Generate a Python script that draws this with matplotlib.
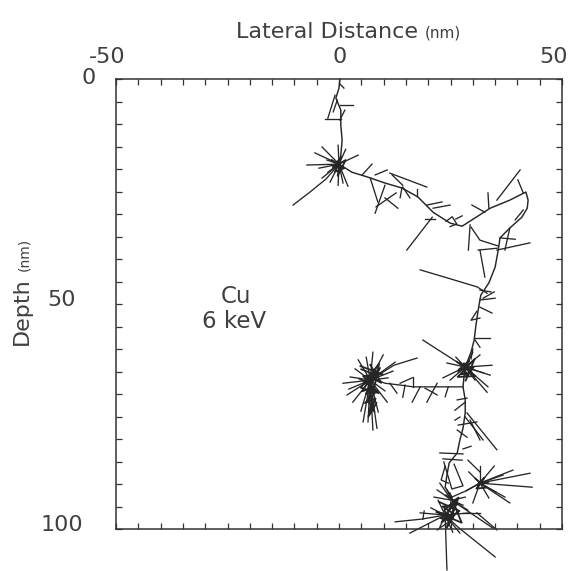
import matplotlib
matplotlib.use("Agg")
import matplotlib.pyplot as plt

# primary ion track: lateral distance (nm), depth (nm)
track_x = [0.2, 0.0, -0.7, 0.4, 0.4, 0.7, 0.4, 0.0, 2.9, 6.5, 10.3, 14.1, 17.7,
           21.1, 24.9, 27.6, 29.8, 33.9, 38.3, 41.9, 42.4, 42.2, 41.0, 38.3,
           36.1, 35.7, 35.0, 33.6, 31.8, 31.2, 30.7, 30.3, 29.6, 28.3, 28.0,
           27.8, 28.3, 28.3, 27.8, 27.1, 26.5, 24.7, 24.2, 23.8, 25.3, 24.9, 23.8]
track_d = [0.0, 2.0, 4.2, 6.9, 10.2, 13.6, 16.9, 18.9, 20.7, 21.8, 23.1, 24.2, 26.2,
           29.6, 32.0, 32.7, 31.3, 28.7, 26.9, 25.1, 26.9, 28.7, 30.7, 33.1,
           35.3, 38.0, 41.8, 45.3, 48.0, 51.3, 54.7, 58.0, 60.7, 64.0, 66.4,
           68.4, 71.3, 74.2, 77.6, 80.2, 83.1, 85.3, 88.0, 90.7, 92.9, 95.1, 97.3]

# recoil branches, each a list of (lateral, depth) points
branches = [
    [(-0.9, 3.6), (-2.5, 8.7)], [(-3.1, 8.9), (0.4, 8.9)], [(0.2, 5.8), (3.1, 5.8)],
    [(1.3, 6.9), (0.2, 9.1)], [(0.2, 1.1), (1.1, 2.0)], [(-0.4, 4.7), (-1.3, 7.3)],
    [(0.0, 18.9), (-2.9, 22.2), (-6.5, 25.1), (-10.3, 28.0)],
    [(5.2, 21.3), (7.4, 18.9)], [(8.1, 21.3), (10.8, 20.2)], [(7.0, 22.0), (8.7, 27.3)],
    [(10.3, 23.6), (8.1, 29.8)], [(10.3, 26.4), (13.2, 28.7)], [(8.3, 28.4), (12.8, 25.3)],
    [(11.9, 21.3), (14.3, 23.6)], [(11.4, 20.9), (19.7, 24.0)], [(14.1, 24.2), (13.7, 26.4)],
    [(14.3, 24.0), (15.9, 26.4)], [(17.5, 26.0), (17.5, 24.4)], [(19.7, 28.0), (23.1, 27.3)],
    [(21.1, 28.7), (24.9, 28.0)], [(19.3, 31.1), (21.5, 31.1)], [(20.9, 30.7), (15.2, 38.0)],
    [(26.2, 31.1), (27.6, 30.4)], [(29.4, 32.4), (29.0, 38.0)], [(29.8, 28.0), (32.7, 29.6)],
    [(33.4, 25.3), (33.6, 28.7)], [(35.4, 26.9), (40.6, 20.2)], [(40.1, 22.4), (41.3, 25.3)],
    [(41.3, 29.1), (39.5, 31.3)], [(29.6, 32.9), (31.6, 35.8), (35.7, 37.1)],
    [(31.2, 38.0), (35.4, 37.6)], [(31.6, 38.0), (32.7, 44.0)], [(35.4, 38.0), (42.8, 36.4)],
    [(36.1, 35.3), (39.5, 35.6)], [(38.3, 33.1), (37.2, 38.0)],
    [(24.0, 31.6), (25.4, 30.6), (26.4, 32.2), (24.9, 32.8)],
    [(18.2, 42.4), (26.0, 44.7), (31.0, 46.2), (33.2, 47.6)],
    [(31.6, 46.9), (34.1, 47.3)], [(32.3, 48.7), (34.8, 47.3)],
    [(31.6, 49.1), (35.0, 48.7)], [(31.6, 50.7), (34.3, 52.0)],
    [(30.9, 51.6), (29.6, 53.6), (31.6, 53.1)], [(30.5, 57.6), (33.9, 57.6)],
    [(30.5, 58.0), (31.6, 59.6)], [(30.0, 60.0), (29.6, 62.2)],
    [(18.8, 58.0), (23.5, 61.0), (27.6, 63.6)],
    [(27.8, 68.4), (21.1, 68.4), (16.6, 68.4), (13.7, 68.0), (10.3, 67.6), (7.4, 66.4)],
    [(14.8, 68.0), (14.3, 70.7)], [(18.2, 68.4), (16.4, 71.8)], [(19.3, 68.7), (22.0, 70.2)],
    [(22.0, 67.6), (19.7, 71.8)], [(13.7, 67.6), (16.4, 66.4)], [(11.4, 67.6), (13.0, 69.8)],
    [(16.6, 66.2), (16.6, 68.4)], [(24.5, 68.4), (23.8, 70.6)],
    [(7.0, 66.9), (12.3, 63.6), (17.5, 62.0)],
    [(26.5, 71.3), (28.7, 70.9)], [(26.0, 73.6), (28.3, 71.8)], [(28.3, 75.1), (32.3, 80.2)],
    [(28.7, 74.2), (35.4, 82.4)], [(29.4, 75.8), (31.6, 80.2)], [(26.5, 78.0), (28.7, 79.6)],
    [(27.1, 75.1), (26.0, 75.8)], [(26.7, 76.9), (30.9, 76.2)],
    [(22.6, 83.1), (27.8, 83.3)], [(23.3, 84.4), (27.6, 84.7)], [(27.8, 82.2), (29.6, 81.6)],
    [(28.9, 84.7), (31.6, 87.3)], [(23.5, 85.1), (25.3, 91.1), (27.8, 90.4), (25.8, 85.6)],
    [(23.8, 86.0), (22.9, 89.1), (24.5, 89.8)],
    [(25.3, 92.9), (28.5, 91.5), (31.6, 89.8)],
    [(23.8, 96.9), (18.5, 97.8), (12.6, 98.4)], [(18.8, 97.8), (19.1, 96.0)],
    [(23.8, 96.9), (26.7, 99.6), (35.0, 106.2)], [(25.3, 93.6), (34.5, 99.8)],
    [(23.8, 97.3), (24.2, 109.1)], [(24.2, 98.7), (22.0, 100.2)], [(30.9, 96.4), (35.4, 100.2)],
    [(27.8, 96.4), (31.6, 96.4)],
]

# tangled cores of the dense cascades
cores = [
    [(-1.6, 18.0), (1.2, 19.8), (-0.9, 20.6), (0.5, 17.3), (-1.4, 19.6), (1.5, 18.0),
     (-0.3, 21.5), (0.2, 18.6)],
    [(27.0, 63.0), (29.8, 65.2), (27.5, 65.6), (29.2, 62.6), (26.8, 64.6), (30.2, 64.0),
     (28.6, 66.2), (28.0, 63.2)],
    [(26.4, 62.8), (30.6, 66.0), (26.6, 66.2), (30.4, 62.2), (28.4, 67.0)],
    [(5.0, 64.5), (8.8, 66.0), (5.5, 67.8), (9.2, 64.2), (6.0, 70.0), (8.6, 69.2),
     (5.8, 72.0), (8.2, 71.0), (6.8, 74.5), (7.6, 72.8), (6.2, 66.0), (9.5, 67.5), (7.0, 63.5)],
    [(4.6, 66.6), (7.8, 68.4), (5.2, 69.4), (8.0, 65.0), (6.5, 71.5), (7.9, 73.9)],
    [(4.8, 63.8), (9.8, 65.6), (5.4, 66.0), (8.9, 69.8), (4.9, 68.6), (9.0, 63.2),
     (6.6, 75.0), (8.4, 72.0)],
    [(30.6, 88.8), (33.0, 90.8), (30.8, 91.0), (32.6, 88.6), (31.0, 90.2), (33.4, 89.6)],
    [(24.0, 92.5), (26.6, 94.5), (23.2, 95.0), (26.0, 96.8), (22.8, 97.6), (25.2, 98.2),
     (23.6, 95.8), (26.8, 93.0), (24.6, 99.0)],
    [(22.5, 94.0), (27.0, 96.0), (23.0, 98.5), (26.5, 93.2), (24.0, 100.0), (25.8, 97.0),
     (21.8, 96.2), (27.5, 98.6), (24.8, 92.0)],
]

# dense cascades: centre and spoke end points
cluster_centres = [(0.0, 18.9), (28.3, 64.0), (7.0, 66.9), (31.6, 89.8),
                   (25.3, 93.6), (23.8, 96.9)]
cluster_spokes = [
    [(-7.2, 19.1), (-3.8, 15.1), (-0.2, 14.7), (4.3, 16.9), (-2.7, 18.0), (-2.0, 22.9),
     (-0.2, 23.6), (0.9, 23.1), (-3.8, 22.0), (-2.5, 20.7), (-5.4, 16.4), (2.0, 23.8),
     (1.5, 15.6), (-4.5, 19.8)],
    [(24.2, 63.1), (23.3, 66.4), (33.9, 65.8), (33.4, 68.4), (30.0, 60.7), (34.3, 63.6),
     (31.6, 61.3), (32.3, 65.3), (24.9, 66.9), (26.2, 61.8), (33.2, 69.6), (30.5, 66.9),
     (26.7, 65.1)],
    [(7.6, 60.7), (9.9, 61.3), (12.6, 62.9), (0.9, 67.6), (2.5, 66.2), (1.8, 70.2),
     (3.1, 71.8), (5.4, 76.2), (6.5, 76.2), (7.6, 78.0), (8.5, 77.6), (4.3, 62.4),
     (10.8, 71.8), (4.9, 73.8), (11.0, 66.4), (3.6, 64.4), (6.1, 61.8), (12.1, 64.9),
     (10.3, 69.3), (8.8, 74.0), (2.2, 68.9)],
    [(39.0, 86.9), (42.8, 87.6), (43.3, 90.7), (38.3, 94.2), (31.6, 86.0), (30.0, 94.2),
     (35.2, 91.8), (34.8, 86.0), (36.8, 88.0), (28.5, 91.5), (29.1, 87.3), (33.6, 93.1),
     (37.2, 92.9)],
    [(22.0, 91.3), (22.6, 89.8), (28.3, 92.9), (27.8, 94.7), (24.2, 91.3), (28.9, 95.8),
     (21.3, 92.9)],
    [(15.9, 100.9), (20.6, 95.3), (22.2, 93.6), (29.4, 96.4), (27.1, 100.9), (18.2, 96.4),
     (25.5, 100.7), (22.6, 99.6)],
]

x_labels = ["-50", "0", "50"]
d_labels = ["0", "50", "100"]

ink = "#262626"
txt = "#404040"
plt.rcParams["font.family"] = ["DejaVu Sans"]

fig = plt.figure(figsize=(5.70, 5.71), dpi=100)
ax = fig.add_axes([0.2035, 0.0735, 0.7825, 0.788])

ax.plot(track_x, track_d, color=ink, lw=1.05, clip_on=False)
for br in branches:
    ax.plot([p[0] for p in br], [p[1] for p in br], color=ink, lw=0.95, clip_on=False)
for core in cores:
    ax.plot([p[0] for p in core], [p[1] for p in core], color=ink, lw=1.3)
for (cx, cd), spokes in zip(cluster_centres, cluster_spokes):
    for ex, ed in spokes:
        ax.plot([cx, ex], [cd, ed], color=ink, lw=0.95, clip_on=False)

ax.set_xlim(-50, 50)
ax.set_ylim(100, 0)
ax.set_xticks(range(-50, 51, 5))
ax.set_yticks(range(0, 101, 5))
ax.tick_params(direction="in", length=4.5, width=0.9, color="#333333",
               top=True, right=True, bottom=True, left=True,
               labelbottom=False, labelleft=False, labeltop=False)
for s in ax.spines.values():
    s.set_linewidth(1.1)
    s.set_color("#333333")

# tick labels, placed as in the original
for lab, xp in zip(x_labels, [-52.0, 0.2, 48.0]):
    ax.text(xp, -4.8, lab, ha="center", va="center", fontsize=16, color=txt, clip_on=False)
for lab, xp, dp in zip(d_labels, [-56.1, -62.2, -62.1], [-0.2, 49.1, 99.1]):
    ax.text(xp, dp, lab, ha="center", va="center", fontsize=16, color=txt, clip_on=False)

ax.text(-23.0, 48.4, "Cu", ha="center", va="center", fontsize=16.5, color=txt)
ax.text(-23.5, 53.8, "6 keV", ha="center", va="center", fontsize=16.5, color=txt)

fig.text(418 / 570, 1 - 38 / 571, "Lateral Distance", ha="right", va="baseline",
         fontsize=16, color=txt)
fig.text(425 / 570, 1 - 38 / 571, "(nm)", ha="left", va="baseline", fontsize=11, color=txt)
fig.text(28 / 570, 1 - 311 / 571, "Depth", rotation=90, rotation_mode="anchor",
         ha="center", va="baseline", fontsize=16, color=txt)
fig.text(28 / 570, 1 - 254 / 571, "(nm)", rotation=90, rotation_mode="anchor",
         ha="center", va="baseline", fontsize=10, color=txt)

fig.savefig("out.png", dpi=100)
